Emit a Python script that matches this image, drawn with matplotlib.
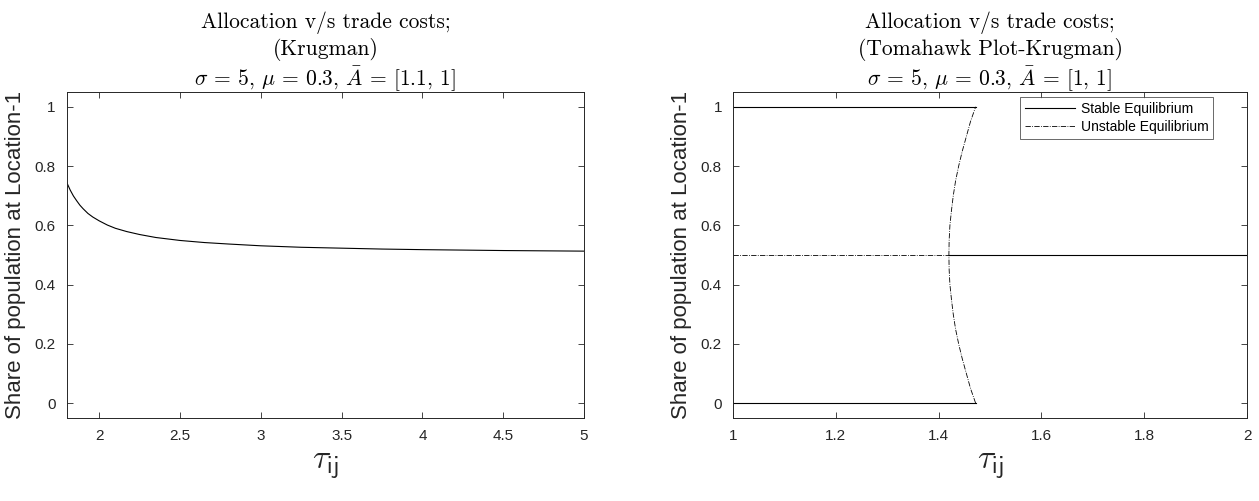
import matplotlib
matplotlib.use("Agg")
import matplotlib.pyplot as plt

plt.rcParams['mathtext.fontset'] = 'cm'
plt.rcParams['font.family'] = ['Liberation Sans', 'DejaVu Sans']

# left panel: share of population vs trade costs (Krugman, A = [1.1, 1])
tau_left = [1.80, 1.82, 1.84, 1.86, 1.88, 1.90, 1.93, 1.96, 2.00, 2.05, 2.10,
            2.17, 2.25, 2.35, 2.50, 2.65, 2.80, 3.00, 3.25, 3.50, 3.75, 4.00,
            4.50, 5.00]
share_left = [0.743, 0.719, 0.699, 0.683, 0.668, 0.656, 0.640, 0.628, 0.615,
              0.601, 0.590, 0.579, 0.569, 0.559, 0.549, 0.542, 0.537, 0.531,
              0.526, 0.523, 0.520, 0.518, 0.515, 0.513]

# right panel: tomahawk (A = [1, 1])
stable_tau_hi = [1.0, 1.472]
stable_share_hi = [1.0, 1.0]
stable_tau_lo = [1.0, 1.472]
stable_share_lo = [0.0, 0.0]
stable_tau_mid = [1.42, 2.0]
stable_share_mid = [0.5, 0.5]

unstable_tau_mid = [1.0, 1.42]
unstable_share_mid = [0.5, 0.5]
unstable_tau_branch = [1.472, 1.462, 1.454, 1.446, 1.439, 1.433, 1.4285, 1.425,
                       1.422, 1.4205, 1.42, 1.4205, 1.422, 1.425, 1.4285, 1.433,
                       1.439, 1.446, 1.454, 1.462, 1.472]
unstable_share_branch = [0.0, 0.05, 0.1, 0.15, 0.2, 0.25, 0.3, 0.35, 0.4, 0.45,
                         0.5, 0.55, 0.6, 0.65, 0.7, 0.75, 0.8, 0.85, 0.9, 0.95,
                         1.0]

yticks = [0, 0.2, 0.4, 0.6, 0.8, 1]
ytick_labels = ['0', '0.2', '0.4', '0.6', '0.8', '1']
xticks_left = [2, 2.5, 3, 3.5, 4, 4.5, 5]
xtick_labels_left = ['2', '2.5', '3', '3.5', '4', '4.5', '5']
xticks_right = [1, 1.2, 1.4, 1.6, 1.8, 2]
xtick_labels_right = ['1', '1.2', '1.4', '1.6', '1.8', '2']

title_left = ("Allocation v/s trade costs;\n(Krugman)\n"
              r"$\sigma$ = 5, $\mu$ = 0.3, $\bar{A}$ = [1.1, 1]")
title_right = ("Allocation v/s trade costs;\n(Tomahawk Plot-Krugman)\n"
               r"$\sigma$ = 5, $\mu$ = 0.3, $\bar{A}$ = [1, 1]")

axcol = '#262626'

fig = plt.figure(figsize=(12.59, 5.01), dpi=100)
ax1 = fig.add_axes([0.0532, 0.1657, 0.4106, 0.6507])
ax2 = fig.add_axes([0.5822, 0.1657, 0.4083, 0.6507])


def style_axes(ax, xlim, xticks, xlabels, title):
    ax.set_xlim(*xlim)
    ax.set_ylim(-0.05, 1.05)
    ax.set_xticks(xticks)
    ax.set_xticklabels(xlabels)
    ax.set_yticks(yticks)
    ax.set_yticklabels(ytick_labels)
    ax.tick_params(direction='in', length=4, width=0.6, colors=axcol,
                   labelsize=11, top=True, right=True, pad=8)
    for s in ax.spines.values():
        s.set_color(axcol)
        s.set_linewidth(0.7)
    ax.set_ylabel('Share of population at Location-1', fontsize=16,
                  color=axcol, labelpad=6)
    ax.set_xlabel(r'$\tau_{\mathsf{ij}}$', fontsize=24, color=axcol,
                  labelpad=6)
    ax.set_title(title, fontsize=15.5, family=['cmr10', 'DejaVu Serif'],
                 linespacing=1.2, pad=4)


ax1.plot(tau_left, share_left, color='black', linewidth=0.8)
style_axes(ax1, (1.8, 5), xticks_left, xtick_labels_left, title_left)

ax2.plot(stable_tau_hi, stable_share_hi, color='black', linewidth=0.8,
         label='Stable Equilibrium')
ax2.plot(stable_tau_lo, stable_share_lo, color='black', linewidth=0.8)
ax2.plot(stable_tau_mid, stable_share_mid, color='black', linewidth=0.8)
ax2.plot(unstable_tau_mid, unstable_share_mid, color='black', linewidth=0.6,
         linestyle='-.', label='Unstable Equilibrium')
ax2.plot(unstable_tau_branch, unstable_share_branch, color='black',
         linewidth=0.6, linestyle='-.')
style_axes(ax2, (1, 2), xticks_right, xtick_labels_right, title_right)

leg = ax2.legend(loc='upper right', bbox_to_anchor=(0.934, 0.985),
                 fontsize=10, frameon=True, fancybox=False,
                 handlelength=3.6, borderpad=0.35, labelspacing=0.3,
                 handletextpad=0.4, borderaxespad=0)
leg.get_frame().set_edgecolor(axcol)
leg.get_frame().set_linewidth(0.6)

fig.savefig('out.png', dpi=100)
